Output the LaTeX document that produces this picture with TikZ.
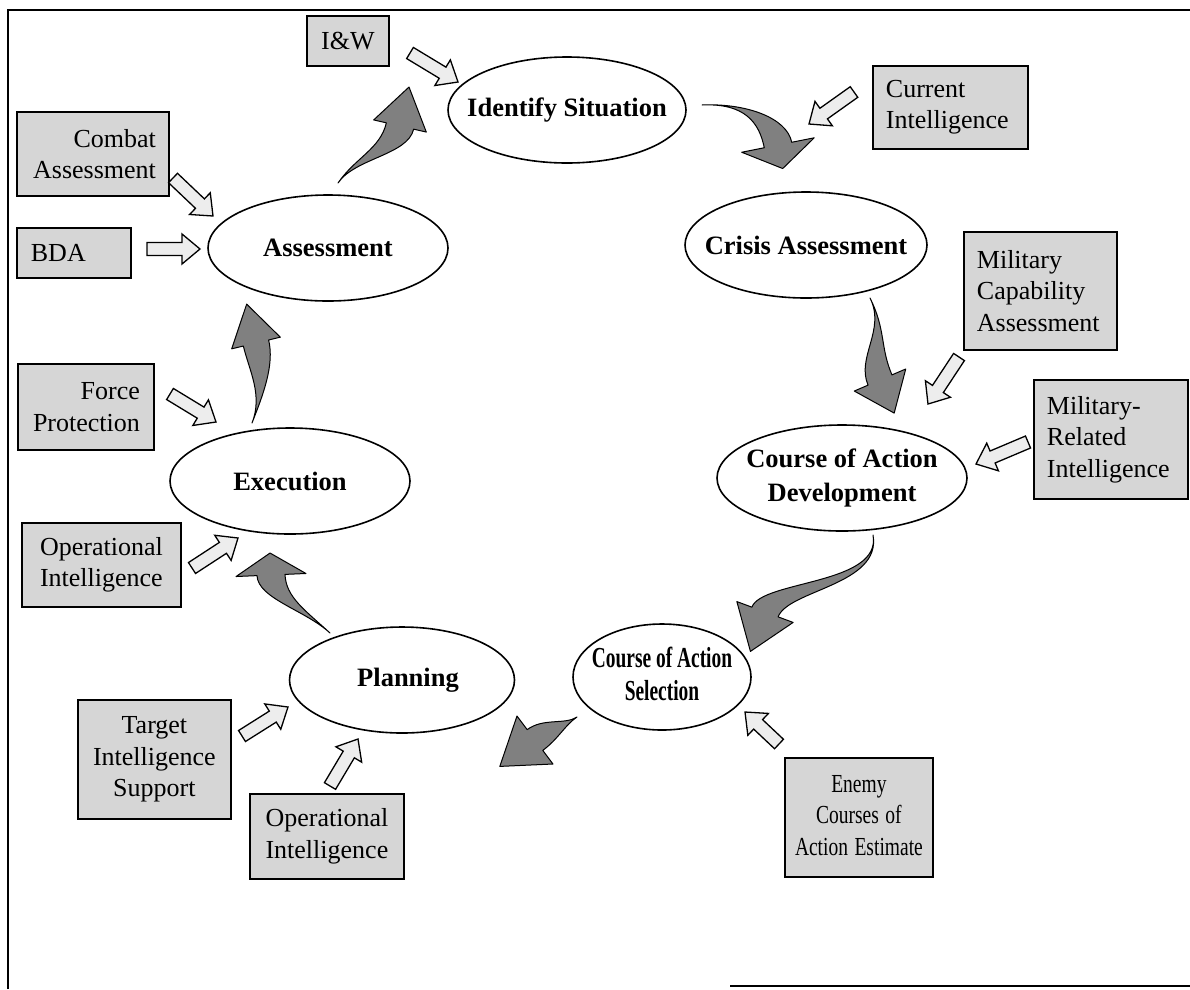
\documentclass[tikz,border=0pt]{standalone}
\usepackage{fontspec}
\usepackage{graphicx}
\setmainfont{Liberation Serif}
\usetikzlibrary{calc,shapes.geometric}

\tikzset{
  stage/.style={ellipse, draw=black, line width=1.6pt, fill=white, inner sep=0pt},
  stagetext/.style={font=\fontsize{26.5}{34}\selectfont\bfseries, align=center, inner sep=0pt},
  infobox/.style={rectangle, draw=black, line width=1.8pt, fill=black!16, inner ysep=2pt,
    font=\fontsize{26}{31.5}\selectfont, anchor=north west},
  inflow/.style={draw=black, line width=1.3pt, fill=black!7, line join=miter},
  swoosh/.style={draw=black, line width=1pt, fill=black!50, line join=round},
  frame/.style={line width=1.5pt},
}

% horizontally condensed block of centred lines
\newcommand\narrowlines[2]{\scalebox{#1}[1]{\begin{tabular}{@{}c@{}}#2\end{tabular}}}

% hollow block arrow from #1 (tail) to #2 (tip)
\newcommand\inarrow[2]{%
  \coordinate (ia-h) at ($(#2)!18pt!(#1)$);
  \filldraw[inflow] ($(#1)!6.5pt!90:(#2)$) -- ($(ia-h)!6.5pt!90:(#2)$) -- ($(ia-h)!15pt!90:(#2)$)
    -- (#2) -- ($(ia-h)!15pt!-90:(#2)$) -- ($(ia-h)!6.5pt!-90:(#2)$) -- ($(#1)!6.5pt!-90:(#2)$) -- cycle;
}

% tapered curved arrow: tail #1, controls #2 #3, head base #4,
% body half width #5, head half width #6, head length #7
\newcommand\flowarrow[7]{%
  \filldraw[swoosh] (#1) .. controls (#2) and ($(#3)!#5!-90:(#4)$) .. ($(#4)!#5!90:(#3)$)
    -- ($(#4)!#6!90:(#3)$) -- ($(#4)!-#7!(#3)$) -- ($(#4)!#6!-90:(#3)$)
    -- ($(#4)!#5!-90:(#3)$) .. controls ($(#3)!#5!90:(#4)$) and (#2) .. (#1) -- cycle;
}

\begin{document}
\begin{tikzpicture}[x=1pt, y=-1pt]
\useasboundingbox (0,0) rectangle (1190,989);

% outer frame
\draw[frame] (8,989) -- (8,10) -- (1190,10);
\draw[frame] (730,986) -- (1190,986);

% stages of the cycle
\node[stage, minimum width=238pt, minimum height=106pt] (ident) at (567,110) {};
\node[stagetext] (ident-t) at (ident) {Identify Situation};
\node[stage, minimum width=242pt, minimum height=106pt] (crisis) at (806,245) {};
\node[stagetext] (crisis-t) at (crisis) {Crisis Assessment};
\node[stage, minimum width=250pt, minimum height=106pt] (coad) at (842,478) {};
\node[stagetext] (coad-t) at (coad) {Course of Action\\Development};
\node[stage, minimum width=178pt, minimum height=106pt] (coas) at (662,677) {};
\node[stagetext, font=\fontsize{29}{33}\selectfont\bfseries] (coas-t) at (coas)
  {\renewcommand\arraystretch{1.0}\narrowlines{0.67}{Course of Action\\Selection}};
\node[stage, minimum width=225pt, minimum height=106pt] (plan) at (402,680) {};
\node[stagetext] (plan-t) at ([xshift=6pt]plan) {Planning};
\node[stage, minimum width=240pt, minimum height=106pt] (exec) at (290,481) {};
\node[stagetext] (exec-t) at (exec) {Execution};
\node[stage, minimum width=240pt, minimum height=106pt] (assess) at (328,248) {};
\node[stagetext] (assess-t) at (assess) {Assessment};

% intelligence inputs
\node[infobox, minimum width=82pt, minimum height=50pt, inner xsep=6pt, text width=70pt, align=center] (iw) at (306,15) {I\&W};
\node[infobox, minimum width=152pt, minimum height=84pt, inner xsep=13pt, text width=126pt, align=right] (combat) at (16,111) {Combat\\Assessment};
\node[infobox, minimum width=114pt, minimum height=50pt, inner xsep=14pt, text width=86pt, align=left] (bda) at (16,227) {BDA};
\node[infobox, minimum width=155pt, minimum height=83pt, inner xsep=13pt, text width=129pt, align=left] (current) at (872,65) {Current\\Intelligence};
\node[infobox, minimum width=153pt, minimum height=118pt, inner xsep=13pt, text width=127pt, align=left] (milcap) at (963,231) {Military\\Capability\\Assessment};
\node[infobox, minimum width=154pt, minimum height=119pt, inner xsep=13pt, text width=128pt, align=left] (milrel) at (1033,379) {Military-\\Related\\Intelligence};
\node[infobox, minimum width=136pt, minimum height=86pt, inner xsep=14pt, text width=108pt, align=right] (force) at (17,363) {Force\\Protection};
\node[infobox, minimum width=159pt, minimum height=84pt, inner xsep=6pt, text width=147pt, align=center] (opleft) at (21,522) {Operational\\Intelligence};
\node[infobox, minimum width=153pt, minimum height=119pt, inner xsep=6pt, text width=141pt, align=center] (target) at (77,699) {Target\\Intelligence\\Support};
\node[infobox, minimum width=154pt, minimum height=85pt, inner xsep=6pt, text width=142pt, align=center] (opbot) at (249,793) {Operational\\Intelligence};
\node[infobox, minimum width=148pt, minimum height=119pt, inner xsep=6pt, text width=136pt, align=center] (enemy) at (784,757)
  {\renewcommand\arraystretch{1.0}\narrowlines{0.75}{Enemy\\Courses of\\Action Estimate}};

% end points of the input arrows
\coordinate (iw-a) at (410,53);       \coordinate (iw-b) at (458,82);
\coordinate (combat-a) at (173,178);  \coordinate (combat-b) at (213,216);
\coordinate (bda-a) at (147,249);     \coordinate (bda-b) at (200,249);
\coordinate (current-a) at (854,92);  \coordinate (current-b) at (809,124);
\coordinate (milcap-a) at (959,357);  \coordinate (milcap-b) at (928,404);
\coordinate (milrel-a) at (1028,442); \coordinate (milrel-b) at (976,464);
\coordinate (force-a) at (170,394);   \coordinate (force-b) at (216,422);
\coordinate (opleft-a) at (192,568);  \coordinate (opleft-b) at (238,538);
\coordinate (target-a) at (242,736);  \coordinate (target-b) at (288,707);
\coordinate (opbot-a) at (330,786);   \coordinate (opbot-b) at (358,739);
\coordinate (enemy-a) at (779,744);   \coordinate (enemy-b) at (745,712);

\inarrow{iw-a}{iw-b}
\inarrow{combat-a}{combat-b}
\inarrow{bda-a}{bda-b}
\inarrow{current-a}{current-b}
\inarrow{milcap-a}{milcap-b}
\inarrow{milrel-a}{milrel-b}
\inarrow{force-a}{force-b}
\inarrow{opleft-a}{opleft-b}
\inarrow{target-a}{target-b}
\inarrow{opbot-a}{opbot-b}
\inarrow{enemy-a}{enemy-b}

% cycle arrows between stages
\coordinate (c1a) at (338,183); \coordinate (c1b) at (355,158); \coordinate (c1c) at (394,152); \coordinate (c1d) at (400,126);
\coordinate (c2a) at (702,105); \coordinate (c2b) at (745,103); \coordinate (c2c) at (773,120); \coordinate (c2d) at (778,145);
\coordinate (c3a) at (870,298); \coordinate (c3b) at (886,330); \coordinate (c3c) at (868,352); \coordinate (c3d) at (880,380);
\coordinate (c4a) at (873,535); \coordinate (c4b) at (882,585); \coordinate (c4c) at (775,585); \coordinate (c4d) at (765,612);
\coordinate (c5a) at (577,717); \coordinate (c5b) at (565,725); \coordinate (c5c) at (551,728); \coordinate (c5d) at (535,740);
\coordinate (c6a) at (330,633); \coordinate (c6b) at (305,610); \coordinate (c6c) at (272,598); \coordinate (c6d) at (271,575);
\coordinate (c7a) at (252,423); \coordinate (c7b) at (263,395); \coordinate (c7c) at (262,368); \coordinate (c7d) at (256,343);

\flowarrow{c1a}{c1b}{c1c}{c1d}{14pt}{27pt}{40pt}
\flowarrow{c2a}{c2b}{c2c}{c2d}{14pt}{37pt}{24pt}
\flowarrow{c3a}{c3b}{c3c}{c3d}{13pt}{28pt}{36pt}
\flowarrow{c4a}{c4b}{c4c}{c4d}{14pt}{30pt}{42pt}
\flowarrow{c5a}{c5b}{c5c}{c5d}{13pt}{30pt}{44pt}
\flowarrow{c6a}{c6b}{c6c}{c6d}{14pt}{35pt}{22pt}
\flowarrow{c7a}{c7b}{c7c}{c7d}{13pt}{25pt}{40pt}
\end{tikzpicture}
\end{document}
